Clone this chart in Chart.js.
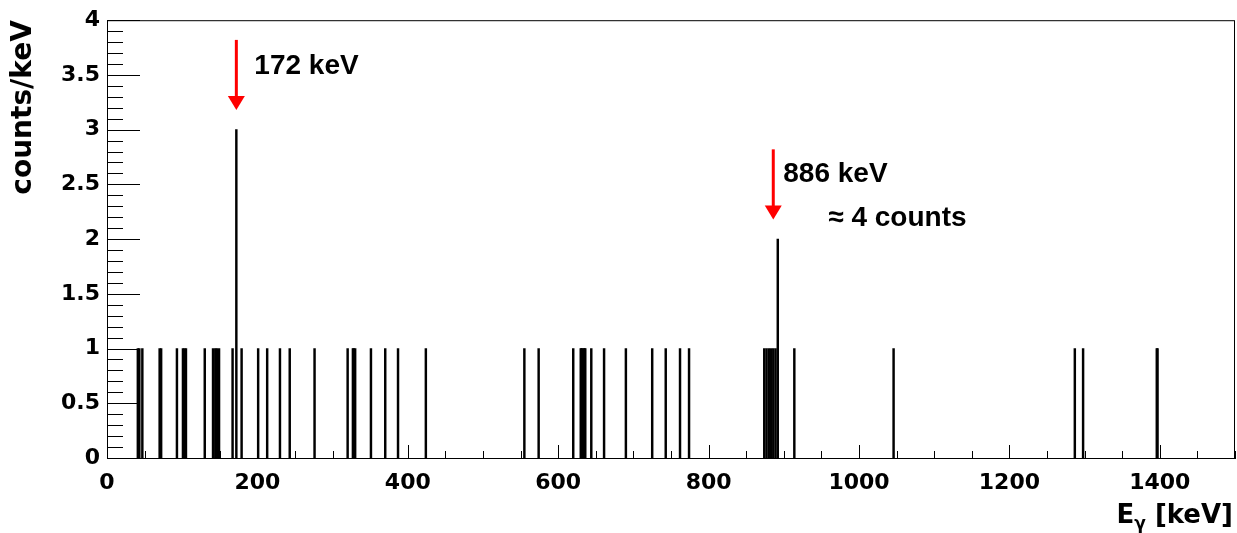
<!DOCTYPE html>
<html>
<head>
<meta charset="utf-8">
<script src="https://cdn.jsdelivr.net/npm/chart.js@4"></script>
<style>
    html, body { margin: 0; padding: 0; background: #ffffff; }
    canvas { display: block; }
</style>
</head>
<body>
<canvas id="spectrum" width="1237" height="533"></canvas>
<script>
// gamma energies (keV) of the filled bins and their counts
const energies = [41, 43, 47, 70, 72, 93, 101, 103, 105, 130, 141, 144, 146, 149, 167, 172, 179,
    201, 213, 230, 243, 276, 320, 327, 328, 330, 351, 370, 387, 424,
    555, 574, 620, 630, 631, 632, 634, 635, 636, 644, 661, 690, 725, 743, 762, 774,
    874, 877, 880, 883, 886, 889, 892, 914, 1046, 1287, 1298, 1396, 1397];
const counts = [1, 1, 1, 1, 1, 1, 1, 1, 1, 1, 1, 1, 1, 1, 1, 3, 1,
    1, 1, 1, 1, 1, 1, 1, 1, 1, 1, 1, 1, 1,
    1, 1, 1, 1, 1, 1, 1, 1, 1, 1, 1, 1, 1, 1, 1, 1,
    1, 1, 1, 1, 1, 1, 2, 1, 1, 1, 1, 1, 1];

const xTickLabels = [0, 200, 400, 600, 800, 1000, 1200, 1400];
const yTickLabels = [0, 0.5, 1, 1.5, 2, 2.5, 3, 3.5, 4];

// red arrows pointing at the lines, and the notes next to them
const arrows = [
    { energy: 172, from: 3.82, to: 3.18 },
    { energy: 886, from: 2.82, to: 2.18 }
];
const notes = [
    { text: '172 keV', energy: 172, value: 3.51, dx: 18 },
    { text: '886 keV', energy: 886, value: 2.52, dx: 10 },
    { text: '\u2248 4 counts', energy: 886, value: 2.12, dx: 55 }
];

const tickFont = { family: 'DejaVu Sans', weight: 'bold', size: 22 };

// ROOT style frame: box, ticks drawn inwards, arrows and the x title
const framePlugin = {
    id: 'frame',
    afterDatasetsDraw(chart) {
        const ctx = chart.ctx;
        const area = chart.chartArea;
        const xs = chart.scales.x;
        const ys = chart.scales.y;

        ctx.save();
        ctx.strokeStyle = '#000';
        ctx.lineWidth = 1;
        ctx.strokeRect(area.left + 0.5, area.top + 0.5, area.right - area.left - 1, area.bottom - area.top);

        // x ticks every 50 keV
        ctx.beginPath();
        for (let v = 0; v <= 1500; v += 50) {
            const px = Math.round(xs.getPixelForValue(v)) + 0.5;
            const len = v % 200 === 0 ? 13 : 7;
            ctx.moveTo(px, area.bottom);
            ctx.lineTo(px, area.bottom - len);
        }
        // y ticks every 0.1
        for (let i = 0; i <= 40; i++) {
            const py = Math.round(ys.getPixelForValue(i / 10)) + 0.5;
            const len = i % 5 === 0 ? 33 : 16;
            ctx.moveTo(area.left, py);
            ctx.lineTo(area.left + len, py);
        }
        ctx.stroke();

        // arrows
        ctx.strokeStyle = '#ff0000';
        ctx.fillStyle = '#ff0000';
        ctx.lineWidth = 3;
        arrows.forEach(a => {
            const px = xs.getPixelForValue(a.energy);
            const y0 = ys.getPixelForValue(a.from);
            const y1 = ys.getPixelForValue(a.to);
            ctx.beginPath();
            ctx.moveTo(px, y0);
            ctx.lineTo(px, y1 - 12);
            ctx.stroke();
            ctx.beginPath();
            ctx.moveTo(px - 8.5, y1 - 14);
            ctx.lineTo(px + 8.5, y1 - 14);
            ctx.lineTo(px, y1);
            ctx.closePath();
            ctx.fill();
        });

        // notes
        ctx.fillStyle = '#000';
        ctx.font = 'bold 28px "Liberation Sans", Arial, sans-serif';
        ctx.textBaseline = 'alphabetic';
        ctx.textAlign = 'left';
        notes.forEach(n => {
            ctx.fillText(n.text, xs.getPixelForValue(n.energy) + n.dx, ys.getPixelForValue(n.value));
        });

        // x axis title E_gamma [keV], right aligned with the frame
        const big = 'bold 26px "DejaVu Sans"';
        const small = 'bold 17px "DejaVu Sans"';
        ctx.font = big;
        const wE = ctx.measureText('E').width;
        const wRest = ctx.measureText(' [keV]').width;
        ctx.font = small;
        const wG = ctx.measureText('\u03b3').width;
        const base = area.bottom + 65;
        let x = area.right - 2 - (wE + wG + wRest);
        ctx.font = big;
        ctx.fillText('E', x, base);
        x += wE;
        ctx.font = small;
        ctx.fillText('\u03b3', x, base + 6);
        x += wG;
        ctx.font = big;
        ctx.fillText(' [keV]', x, base);
        ctx.restore();
    }
};

new Chart(document.getElementById('spectrum'), {
    type: 'bar',
    data: {
        datasets: [{
            data: energies.map((e, i) => ({ x: e, y: counts[i] })),
            backgroundColor: '#000000',
            borderWidth: 0,
            barThickness: 1.8
        }]
    },
    options: {
        responsive: false,
        animation: false,
        devicePixelRatio: 1,
        layout: { padding: { top: 18, right: 2, left: 0, bottom: 0 } },
        plugins: {
            legend: { display: false },
            tooltip: { enabled: false }
        },
        scales: {
            x: {
                type: 'linear',
                min: 0,
                max: 1500,
                offset: false,
                afterFit: s => { s.height = 75; },
                afterBuildTicks: s => { s.ticks = xTickLabels.map(v => ({ value: v })); },
                grid: { display: false, drawTicks: false },
                border: { display: true, color: '#000', width: 1 },
                ticks: {
                    font: tickFont, color: '#000', padding: 12, maxRotation: 0, autoSkip: false,
                    callback: v => String(v)
                }
            },
            y: {
                min: 0,
                max: 4,
                afterFit: s => { s.width = 107; },
                afterBuildTicks: s => { s.ticks = yTickLabels.map(v => ({ value: v })); },
                grid: { display: false, drawTicks: false },
                border: { display: true, color: '#000', width: 1 },
                ticks: {
                    font: tickFont, color: '#000', padding: 7, autoSkip: false,
                    callback: v => String(v)
                },
                title: {
                    display: true,
                    text: 'counts/keV',
                    align: 'end',
                    color: '#000',
                    font: { family: 'DejaVu Sans', weight: 'bold', size: 28 },
                    padding: { top: 7, bottom: 0 }
                }
            }
        }
    },
    plugins: [framePlugin]
});
</script>
</body>
</html>
